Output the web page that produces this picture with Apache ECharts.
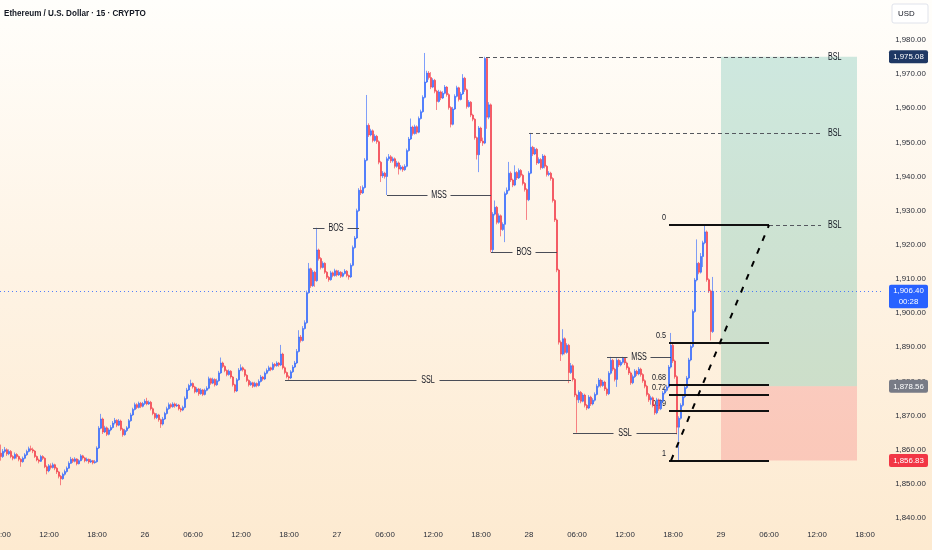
<!DOCTYPE html>
<html>
<head>
<meta charset="utf-8">
<script src="https://cdn.jsdelivr.net/npm/echarts/dist/echarts.min.js"></script>
<style>
html,body{margin:0;padding:0;overflow:hidden;background:#fef6ea}
#c{width:932px;height:550px}
</style>
</head>
<body>
<div id="c"></div>
<script>
// ---------- data (ETH/USD 15m) ----------
const firstOpen = 1859.0;
const closes = [
1858.0,1859.5,1860.0,1858.8,1859.5,1858.0,1857.5,1858.6,1858.0,1857.2,
1856.5,1857.5,1858.5,1859.5,1860.3,1860.0,1859.6,1858.0,1857.0,1856.6,
1858.0,1857.5,1855.0,1853.8,1855.3,1854.8,1855.6,1854.6,1853.5,1852.2,
1851.5,1852.8,1853.6,1854.6,1856.0,1857.2,1856.6,1857.3,1855.9,1856.8,
1858.2,1857.6,1856.8,1857.2,1856.4,1856.8,1856.2,1856.5,1860.5,1866.3,
1869.0,1865.2,1866.4,1864.5,1865.8,1866.5,1867.8,1868.6,1867.2,1868.4,
1866.0,1864.4,1865.6,1866.4,1868.5,1870.2,1871.8,1873.2,1872.4,1873.6,
1872.7,1873.5,1874.2,1873.4,1873.9,1872.0,1870.6,1869.4,1870.2,1868.8,
1867.5,1869.0,1870.6,1872.0,1873.2,1872.6,1873.4,1872.8,1873.1,1872.0,
1871.6,1872.4,1875.0,1877.5,1878.8,1879.4,1878.4,1877.0,1877.8,1876.4,
1877.5,1876.2,1877.4,1878.0,1880.8,1879.5,1880.6,1879.0,1880.2,1882.5,
1885.4,1884.4,1883.2,1882.0,1883.0,1881.3,1879.0,1877.2,1880.5,1883.3,
1884.0,1883.4,1881.8,1880.3,1879.0,1879.6,1878.6,1879.4,1878.8,1880.0,
1881.3,1880.7,1882.4,1883.2,1884.0,1883.5,1885.0,1884.6,1885.4,1884.8,
1888.0,1884.0,1882.6,1881.4,1881.0,1882.8,1884.2,1885.4,1888.8,1893.0,
1892.0,1895.5,1897.2,1906.0,1913.0,1908.0,1912.0,1909.5,1918.5,1916.0,
1913.4,1914.6,1912.0,1910.5,1909.8,1911.8,1911.0,1912.4,1911.2,1912.0,
1910.8,1911.6,1912.3,1911.0,1910.6,1914.0,1919.2,1922.0,1930.0,1936.0,
1935.2,1936.8,1944.8,1955.0,1952.2,1953.4,1950.6,1951.8,1950.2,1944.2,
1940.2,1941.0,1940.0,1945.2,1945.8,1944.6,1945.2,1943.0,1944.0,1942.2,
1942.8,1942.0,1943.0,1947.6,1951.0,1954.5,1952.6,1954.6,1953.0,1957.0,
1959.0,1963.2,1967.7,1970.3,1969.0,1966.2,1968.2,1965.0,1962.0,1964.8,
1963.0,1964.4,1966.2,1964.0,1960.2,1955.3,1959.8,1963.5,1966.0,1962.6,
1964.2,1968.8,1965.4,1960.5,1961.8,1958.0,1956.8,1951.4,1946.4,1954.2,
1950.4,1949.8,1974.6,1957.4,1961.0,1918.6,1929.0,1931.0,1926.6,1928.5,
1924.5,1926.0,1935.0,1936.0,1941.0,1939.0,1937.5,1941.2,1939.6,1941.8,
1940.4,1938.0,1936.2,1933.2,1941.0,1948.6,1946.6,1948.0,1944.0,1945.0,
1942.6,1946.0,1943.0,1940.6,1941.0,1939.4,1933.0,1927.3,1912.6,1891.5,
1888.0,1892.5,1888.5,1890.6,1882.6,1884.6,1880.6,1876.0,1874.6,1876.8,
1874.2,1876.0,1873.0,1872.2,1875.4,1873.4,1874.5,1876.2,1878.6,1880.4,
1878.8,1879.8,1877.8,1876.4,1882.4,1886.2,1883.6,1880.6,1886.2,1884.8,
1885.6,1886.8,1885.4,1884.0,1882.5,1879.6,1881.4,1883.0,1882.2,1883.6,
1882.0,1880.2,1878.6,1876.2,1874.6,1875.2,1873.0,1870.8,1874.6,1872.0,
1874.2,1876.6,1877.4,1878.4,1884.2,1890.6,1886.0,1881.4,1866.6,1869.2,
1873.0,1875.5,1878.2,1881.0,1886.3,1890.2,1900.5,1909.7,1914.6,1912.0,
1916.6,1920.6,1923.8,1909.8,1906.5,1894.6,1906.4
];
const lows = [
1856.8,1857.6,1859.0,1858.2,1858.4,1857.5,1856.9,1857.2,1857.4,1856.6,
1855.0,1856.2,1857.2,1858.2,1859.2,1859.5,1859.0,1857.6,1856.6,1856.0,
1856.4,1857.0,1854.6,1852.8,1853.4,1854.2,1854.5,1854.0,1852.9,1851.6,
1849.6,1851.2,1852.4,1853.3,1854.4,1855.8,1856.1,1856.3,1855.4,1855.7,
1856.6,1857.1,1856.3,1856.5,1855.9,1856.1,1855.7,1855.9,1856.2,1860.2,
1866.0,1864.6,1864.9,1864.0,1864.2,1865.4,1866.2,1867.4,1866.6,1866.9,
1865.5,1863.8,1864.1,1865.2,1866.1,1868.2,1869.9,1871.5,1871.9,1872.1,
1872.2,1872.4,1873.1,1873.0,1873.1,1871.5,1870.1,1868.9,1869.0,1868.2,
1866.4,1867.1,1868.7,1870.3,1871.7,1872.1,1872.3,1872.3,1872.5,1871.5,
1871.0,1871.3,1872.1,1874.7,1877.2,1878.4,1877.9,1876.5,1876.7,1875.8,
1876.1,1875.7,1875.9,1877.1,1877.7,1879.0,1879.2,1878.5,1878.7,1879.9,
1882.2,1883.9,1882.7,1881.5,1881.7,1880.8,1878.5,1876.7,1876.9,1880.2,
1883.0,1882.9,1881.3,1879.8,1878.5,1878.7,1878.1,1878.3,1878.3,1878.5,
1879.7,1880.2,1880.4,1882.1,1882.9,1883.0,1883.2,1884.1,1884.3,1884.3,
1884.5,1883.5,1882.1,1880.9,1880.3,1880.7,1882.5,1883.9,1885.1,1888.5,
1891.4,1891.7,1895.2,1896.9,1905.7,1907.4,1907.7,1907.7,1909.2,1915.4,
1912.8,1913.1,1911.5,1910.0,1909.2,1909.5,1910.5,1910.7,1910.7,1910.9,
1910.3,1910.5,1911.3,1910.5,1909.8,1910.3,1913.7,1918.9,1921.7,1929.7,
1934.6,1934.9,1936.5,1944.5,1951.6,1951.8,1950.0,1950.2,1949.6,1943.6,
1938.4,1939.6,1939.4,1934.6,1944.6,1944.0,1944.1,1942.4,1942.6,1940.6,
1941.8,1941.4,1941.7,1942.7,1947.3,1950.7,1952.0,1952.3,1952.4,1952.7,
1956.7,1958.7,1962.9,1967.4,1968.4,1965.6,1965.9,1964.4,1959.5,1961.7,
1962.4,1962.7,1964.1,1963.4,1959.6,1954.4,1955.0,1959.5,1963.2,1962.0,
1962.3,1963.9,1964.8,1959.9,1960.2,1957.4,1956.2,1950.8,1945.0,1941.3,
1949.8,1949.0,1949.5,1954.0,1956.8,1917.8,1917.8,1928.6,1926.0,1926.2,
1922.5,1924.1,1920.8,1934.6,1935.7,1938.4,1936.9,1937.2,1939.0,1939.3,
1939.8,1937.4,1935.6,1927.3,1932.8,1940.7,1946.0,1946.3,1943.4,1943.7,
1942.0,1942.3,1942.4,1940.0,1940.1,1938.8,1932.4,1926.7,1912.0,1890.8,
1886.0,1887.6,1887.9,1888.1,1879.5,1882.2,1880.0,1875.4,1865.0,1873.7,
1873.6,1873.9,1872.4,1871.6,1871.9,1872.8,1873.0,1874.1,1875.9,1878.2,
1878.2,1878.4,1877.2,1875.8,1876.0,1882.0,1883.0,1880.0,1878.4,1884.2,
1884.4,1885.2,1884.8,1883.4,1881.9,1879.0,1879.2,1881.0,1881.6,1881.8,
1881.4,1879.6,1878.0,1875.6,1874.0,1873.2,1872.4,1870.2,1870.4,1871.4,
1871.6,1873.8,1876.2,1877.0,1878.0,1883.8,1885.4,1880.8,1864.5,1856.83,
1868.8,1872.6,1875.1,1877.8,1880.6,1885.9,1889.8,1900.1,1909.3,1911.4,
1911.6,1913.5,1920.2,1909.2,1905.9,1892.0,1894.2
];
const highs = [
1861.5,1860.2,1860.8,1860.4,1860.1,1859.9,1858.4,1859.2,1859.0,1858.3,
1857.5,1858.0,1859.0,1860.0,1860.9,1861.2,1860.6,1859.9,1858.3,1857.4,
1858.5,1858.4,1857.8,1855.4,1855.8,1856.0,1856.2,1855.9,1854.9,1853.8,
1852.6,1853.3,1854.2,1855.1,1856.6,1857.9,1857.6,1857.8,1857.5,1857.2,
1858.7,1858.5,1857.9,1857.7,1857.4,1857.3,1857.0,1857.0,1861.0,1866.9,
1870.5,1869.4,1867.0,1866.8,1866.3,1867.2,1868.4,1869.3,1868.9,1869.0,
1868.8,1866.4,1866.1,1866.9,1869.0,1870.8,1872.3,1873.8,1873.6,1874.1,
1874.0,1874.0,1874.8,1875.2,1874.4,1874.3,1872.4,1870.9,1870.7,1870.5,
1869.1,1869.6,1871.1,1872.6,1873.8,1873.6,1873.9,1873.8,1873.6,1873.4,
1872.4,1872.9,1875.6,1878.1,1879.3,1880.5,1879.7,1878.7,1878.3,1878.1,
1878.0,1877.8,1877.9,1878.6,1881.4,1881.1,1881.1,1880.9,1880.8,1883.1,
1887.0,1885.8,1884.7,1883.5,1883.5,1883.3,1881.6,1879.3,1881.0,1883.9,
1885.0,1884.4,1883.7,1882.1,1880.6,1880.1,1879.9,1879.9,1879.7,1880.6,
1881.9,1881.6,1882.9,1883.8,1884.6,1884.3,1885.6,1885.4,1885.9,1885.7,
1890.7,1888.4,1884.4,1882.9,1881.8,1883.3,1884.8,1886.0,1889.5,1895.0,
1893.6,1896.2,1897.9,1906.6,1914.7,1913.3,1912.6,1912.4,1925.0,1918.9,
1916.4,1915.2,1914.9,1912.3,1910.9,1912.4,1912.2,1913.0,1912.7,1912.6,
1912.3,1912.1,1912.9,1912.6,1911.3,1914.6,1919.8,1922.6,1930.6,1936.6,
1937.2,1937.4,1945.4,1963.9,1955.6,1954.0,1953.8,1952.4,1952.2,1950.6,
1944.6,1941.6,1941.4,1945.8,1946.6,1946.3,1945.8,1945.6,1944.6,1944.4,
1943.4,1943.2,1943.6,1948.2,1951.6,1957.0,1954.9,1955.2,1955.0,1957.6,
1959.6,1963.8,1976.2,1971.0,1970.9,1970.6,1968.8,1968.6,1965.4,1965.4,
1965.2,1965.0,1966.8,1966.5,1964.4,1960.6,1960.4,1964.1,1966.6,1966.3,
1964.8,1970.0,1969.2,1965.8,1962.4,1962.1,1958.4,1957.1,1951.7,1954.8,
1954.6,1951.4,1975.08,1974.8,1961.8,1961.4,1929.6,1933.0,1931.4,1929.2,
1928.9,1926.6,1935.6,1936.8,1944.3,1941.5,1939.4,1943.3,1941.6,1942.4,
1942.2,1940.8,1938.4,1936.6,1941.6,1952.8,1949.0,1948.6,1948.4,1945.6,
1945.4,1946.6,1946.4,1943.4,1941.6,1941.4,1939.8,1933.4,1927.7,1913.0,
1892.0,1895.3,1892.9,1891.2,1891.0,1885.4,1885.0,1881.0,1876.4,1877.4,
1877.2,1876.6,1876.4,1873.4,1876.0,1875.8,1875.1,1876.8,1879.2,1881.0,
1880.8,1880.4,1880.2,1878.2,1883.0,1887.2,1886.6,1884.0,1886.8,1886.6,
1886.2,1887.2,1887.0,1885.8,1884.4,1882.9,1882.0,1883.6,1883.4,1884.2,
1884.0,1882.4,1880.6,1879.0,1876.6,1875.8,1875.6,1873.4,1875.2,1875.0,
1874.8,1877.2,1878.0,1879.0,1884.8,1894.2,1891.0,1886.4,1881.8,1869.8,
1873.6,1876.1,1878.8,1881.6,1886.9,1890.8,1901.1,1910.3,1921.6,1915.0,
1917.6,1921.2,1925.8,1924.2,1910.2,1906.9,1910.6
];

// time slots of the 15-minute axis (candles + empty future area)
const startDay = 25, startHour = 6, slotCount = 442;
const yTicks = { min: 1840, max: 1990, step: 10 };

// annotations (price level, from time, to time)
const structureNotes = [
  ['BOS', 1925.0, '26 21:00', '27 02:45'],
  ['MSS', 1934.6, '27 06:15', '27 19:15'],
  ['BOS', 1917.8, '27 19:15', '28 03:30'],
  ['SSL', 1880.3, '26 17:30', '28 05:15'],
  ['SSL', 1865.0, '28 05:30', '28 18:30'],
  ['MSS', 1887.2, '28 09:45', '28 17:45']
];
const liquidityNotes = [
  ['BSL', 1975.08, '27 17:45', '29 12:30'],
  ['BSL', 1952.8, '28 00:00', '29 12:30'],
  ['BSL', 1925.8, '29 06:00', '29 12:30']
];
const fibLevels = [0, 0.5, 0.68, 0.72, 0.79, 1];
const fibLabels = ['0', '0.5', '0.68', '0.72', '0.79', '1'];
const fibHigh = 1925.8, fibLow = 1856.83;
const fibFrom = '28 17:30', fibTo = '29 06:00', fibDiagFrom = '28 17:45';
const posFrom = '29 00:00', posTo = '29 17:00';
const posTarget = 1975.08, posEntry = 1878.56, posStop = 1856.83;
const lastPrice = 1906.40, lastTimer = '00:28';
const titleText = 'Ethereum / U.S. Dollar · 15 · CRYPTO';

// ---------- build ----------
function pad(n){ return (n < 10 ? '0' : '') + n; }
const times = [];
for (let i = 0; i < slotCount; i++) {
  const mins = startHour * 60 + i * 15;
  const d = startDay + Math.floor(mins / 1440);
  const h = Math.floor((mins % 1440) / 60), m = mins % 60;
  times.push(d + ' ' + pad(h) + ':' + pad(m));
}
const ohlc = closes.map((c, i) => {
  const o = i ? closes[i - 1] : firstOpen;
  return [o, c, Math.min(lows[i], o, c), Math.max(highs[i], o, c)];
});

// font detection (narrow font if installed)
function tw(f){ const cv = document.createElement('canvas').getContext('2d'); cv.font = f; return cv.measureText('1,980.00 Ethereum').width; }
const narrow = tw('20px "Liberation Sans Narrow", monospace') !== tw('20px monospace');
const FF = narrow ? '"Liberation Sans Narrow", "Liberation Sans", Arial, sans-serif' : '"Liberation Sans", Arial, sans-serif';
const K = narrow ? 1 : 0.83;     // size factor for axis labels
const SX = narrow ? 0.88 : 0.72; // horizontal squeeze for drawn texts
const FS_AX = 9.5 * K;

const UP = '#2962ff', DN = '#f23645', TXT = '#131722';
const fmtPrice = v => v.toLocaleString('en-US', { minimumFractionDigits: 2, maximumFractionDigits: 2 });

const chart = echarts.init(document.getElementById('c'), null, { renderer: 'canvas', width: 932, height: 550 });

const option = {
  animation: false,
  backgroundColor: { type: 'linear', x: 0, y: 0, x2: 0, y2: 1,
    colorStops: [{ offset: 0, color: '#fffefb' }, { offset: 0.5, color: '#fef3e4' }, { offset: 1, color: '#fdead0' }] },
  grid: { left: 0, right: 48, top: 5.86, bottom: 32, containLabel: false, outerBoundsMode: 'none' },
  xAxis: {
    type: 'category', data: times, boundaryGap: true,
    axisLine: { show: false }, axisTick: { show: false }, splitLine: { show: false },
    axisLabel: {
      interval: (i) => i % 24 === 0,
      formatter: (v) => v.slice(3) === '00:00' ? v.slice(0, 2) : v.slice(3),
      margin: 13, color: '#2a2e39', fontSize: FS_AX, fontFamily: FF
    }
  },
  yAxis: {
    type: 'value', position: 'right', min: yTicks.min, max: yTicks.max, interval: yTicks.step,
    axisLine: { show: false }, axisTick: { show: false }, splitLine: { show: false },
    axisLabel: { formatter: v => v >= yTicks.max ? '' : fmtPrice(v), margin: 26.5, align: 'center',
      color: '#2a2e39', fontSize: FS_AX, fontFamily: FF }
  },
  series: [{
    type: 'candlestick', data: ohlc, barWidth: 1.5, z: 3,
    emphasis: { disabled: true },
    itemStyle: { color: UP, color0: DN, borderColor: UP, borderColor0: DN, borderWidth: 0.6 },
    markLine: { silent: true, symbol: ['none', 'none'], label: { show: false },
      lineStyle: { color: 'rgba(41,98,255,0.8)', type: [1, 3], width: 1 }, emphasis: { disabled: true },
      data: [{ yAxis: lastPrice }] },
    markArea: { silent: true, emphasis: { disabled: true },
      data: [
        [{ coord: [posFrom, posTarget], itemStyle: { color: 'rgba(8,153,129,0.2)' } }, { coord: [posTo, posEntry] }],
        [{ coord: [posFrom, posEntry], itemStyle: { color: 'rgba(242,54,69,0.2)' } }, { coord: [posTo, posStop] }]
      ] }
  }]
};
chart.setOption(option);

// ---------- drawings positioned through the chart's own scales ----------
const ix = s => times.indexOf(s);
const P = (s, p) => chart.convertToPixel({ gridIndex: 0 }, [ix(s), p]);
const Y = p => chart.convertToPixel({ gridIndex: 0 }, [0, p])[1];
const snap = v => Math.round(v) + 0.5;
const els = [];
function L(x1, y1, x2, y2, st, z){ els.push({ type: 'line', silent: true, z: z || 5, shape: { x1, y1, x2, y2 }, style: Object.assign({ fill: null }, st) }); }
function T(x, y, text, st, z, sx){ els.push({ type: 'text', silent: true, z: z || 8, x, y, scaleX: sx || 1, style: Object.assign({ text, fill: TXT, fontSize: 10, fontFamily: FF, align: 'center', verticalAlign: 'middle' }, st) }); }
function R(x, y, w, h, st, z){ els.push({ type: 'rect', silent: true, z: z || 6, shape: { x, y, width: w, height: h, r: 2 }, style: st }); }

// title
T(4, 13.5, titleText, { align: 'left', fontSize: 9, fontWeight: 'bold' }, 8, narrow ? 0.98 : 0.9);

const LC = '#4a4d57';
structureNotes.forEach(([lab, price, t1, t2]) => {
  const a = P(t1, price), b = P(t2, price);
  const y = snap(a[1]), xm = (a[0] + b[0]) / 2, hw = 11.5;
  L(a[0], y, xm - hw, y, { stroke: LC, lineWidth: 1 });
  L(xm + hw, y, b[0], y, { stroke: LC, lineWidth: 1 });
  T(xm, y, lab, {}, 8, SX);
});
liquidityNotes.forEach(([lab, price, t1, t2]) => {
  const a = P(t1, price), b = P(t2, price);
  const y = snap(a[1]);
  L(a[0], y, b[0], y, { stroke: '#55585f', lineWidth: 1, lineDash: [4, 3] });
  T(b[0] + 7, y, lab, { align: 'left' }, 8, SX);
});
fibLevels.forEach((lv, k) => {
  const price = fibHigh - lv * (fibHigh - fibLow);
  const a = P(fibFrom, price), b = P(fibTo, price);
  const y = Math.round(a[1]);
  L(a[0], y, b[0], y, { stroke: '#111', lineWidth: 2 });
  T(a[0] - 3, y - 3, fibLabels[k], { align: 'right', verticalAlign: 'bottom', fontSize: 8.5 }, 1, narrow ? 1 : 0.85);
});
{
  const a = P(fibDiagFrom, fibLow), b = P(fibTo, fibHigh);
  L(a[0], a[1], b[0], b[1], { stroke: '#000', lineWidth: 2, lineDash: [6, 8] });
}
// price scale tags
const tagX = 889, tagW = 39, cx = tagX + tagW / 2;
[[posTarget, '#1f3864'], [posEntry, '#787b86'], [posStop, DN]].forEach(([p, col]) => {
  const y = Y(p);
  R(tagX, y - 6.5, tagW, 13, { fill: col });
  T(cx, y, fmtPrice(p), { fill: '#ffffff', fontSize: FS_AX }, 9);
});
{
  const y = Y(lastPrice);
  R(tagX, y - 6.5, tagW, 23.5, { fill: UP });
  T(cx, y, fmtPrice(lastPrice), { fill: '#ffffff', fontSize: FS_AX }, 9);
  T(cx, y + 10.5, lastTimer, { fill: '#ffffff', fontSize: FS_AX }, 9);
}
// currency button
R(892, 4, 36, 19, { fill: '#ffffff', stroke: '#e0e3eb', lineWidth: 1 });
T(898, 13.5, 'USD', { align: 'left', fontSize: FS_AX, fill: '#131722' }, 9);

chart.setOption({ graphic: { elements: els } });
</script>
</body>
</html>
